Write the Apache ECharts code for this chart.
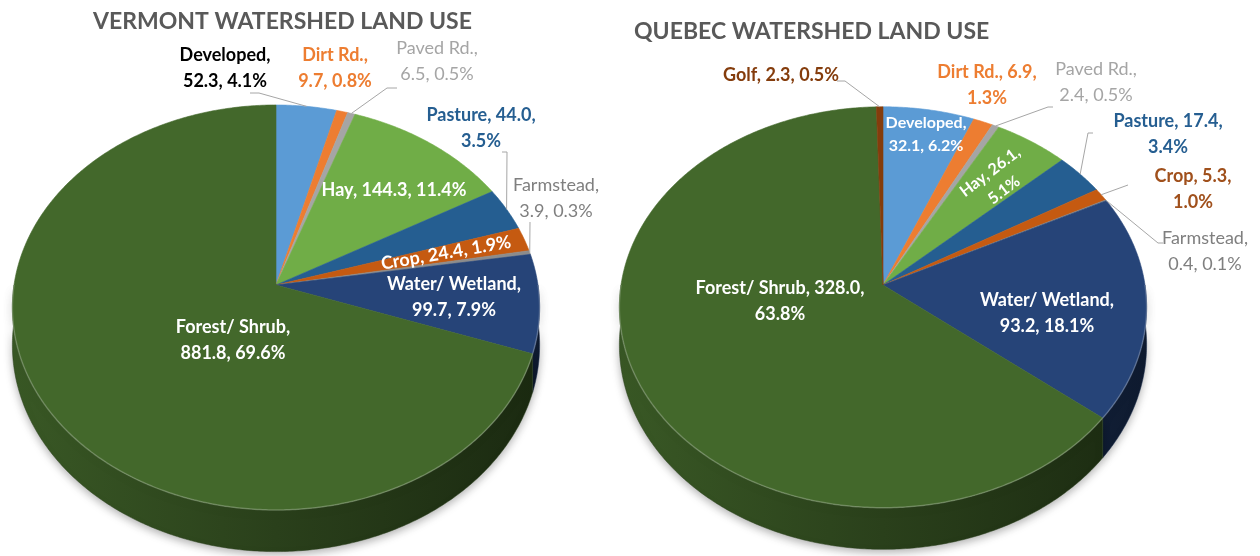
<!DOCTYPE html>
<html>
<head>
	<meta charset="UTF-8">
	<script src="https://cdn.jsdelivr.net/npm/echarts@6/dist/echarts.min.js"></script>
	<title>Watershed land use</title>
	<style>
		body { margin: 0; background: #fff; }
	</style>
</head>
<body>
	<div id="main" style="height:556px;width:1260px;"></div>
	<script type="text/javascript">
        // data (clockwise from 12 o'clock)
        var vtNames = ['Developed', 'Dirt Rd.', 'Paved Rd.', 'Hay', 'Pasture', 'Crop', 'Farmstead', 'Water/ Wetland', 'Forest/ Shrub'];
        var vtValues = [52.3, 9.7, 6.5, 144.3, 44.0, 24.4, 3.9, 99.7, 881.8];
        var vtPct = [4.1, 0.8, 0.5, 11.4, 3.5, 1.9, 0.3, 7.9, 69.6];

        var qcNames = ['Developed', 'Dirt Rd.', 'Paved Rd.', 'Hay', 'Pasture', 'Crop', 'Farmstead', 'Water/ Wetland', 'Forest/ Shrub', 'Golf'];
        var qcValues = [32.1, 6.9, 2.4, 26.1, 17.4, 5.3, 0.4, 93.2, 328.0, 2.3];
        var qcPct = [6.2, 1.3, 0.5, 5.1, 3.4, 1.0, 0.1, 18.1, 63.8, 0.5];

        var colors = {
            'Developed': '#5B9BD5', 'Dirt Rd.': '#ED7D31', 'Paved Rd.': '#A5A5A5', 'Hay': '#70AD47',
            'Pasture': '#255E91', 'Crop': '#C55A11', 'Farmstead': '#8C8C8C', 'Water/ Wetland': '#264478',
            'Forest/ Shrub': '#43682B', 'Golf': '#843C0C'
        };

        // projection of each pie (tilted disk with a little perspective)
        var vtGeo = { cx: 276, cy: 285, R: 262, Ry: 200, k: 0.111, h: 37 };
        var qcGeo = { cx: 883, cy: 285, R: 262, Ry: 198, k: 0.111, h: 37 };

        // label placement, same order as the names
        var vtLabels = [
            { x: 225, y: 68, brk: 1, color: '#000000', leader: [[250, 93], [259, 93]] },
            { x: 335, y: 68, brk: 1, color: '#ED7D31' },
            { x: 437, y: 61, brk: 1, color: '#A5A5A5', weight: 'normal', leader: [[397, 88], [387, 88]] },
            { x: 394, y: 190, brk: 0, color: '#ffffff' },
            { x: 481, y: 128, brk: 2, color: '#255E91', leader: [[502, 152], [507, 152]] },
            { x: 446, y: 253, brk: 0, color: '#ffffff', rot: 0.17 },
            { x: 556, y: 198, brk: 1, color: '#7F7F7F', weight: 'normal', leader: [[530, 222]] },
            { x: 454, y: 297, brk: 1, color: '#ffffff' },
            { x: 233, y: 340, brk: 1, color: '#ffffff' }
        ];
        var qcLabels = [
            { x: 926, y: 134, brk: 1, color: '#ffffff', size: 16 },
            { x: 987, y: 85, brk: 2, color: '#ED7D31' },
            { x: 1096, y: 82, brk: 1, color: '#A5A5A5', weight: 'normal', leader: [[1053, 107], [1048, 107]] },
            { x: 997, y: 181, brk: 2, color: '#ffffff', size: 16, rot: 0.65 },
            { x: 1168, y: 134, brk: 2, color: '#255E91', leader: [[1093, 133], [1088, 133]] },
            { x: 1193, y: 189, brk: 2, color: '#A0501C', leader: [[1128, 185]] },
            { x: 1205, y: 251, brk: 1, color: '#7F7F7F', weight: 'normal', leader: [[1163, 243], [1158, 243]] },
            { x: 1047, y: 313, brk: 1, color: '#ffffff' },
            { x: 780, y: 301, brk: 2, color: '#ffffff' },
            { x: 781, y: 75, brk: 0, color: '#843C0C', leader: [[837, 81], [845, 81]] }
        ];

        function shade(hex, f) {
            var n = parseInt(hex.slice(1), 16);
            var r = Math.round(((n >> 16) & 255) * f);
            var g = Math.round(((n >> 8) & 255) * f);
            var b = Math.round((n & 255) * f);
            return 'rgb(' + r + ',' + g + ',' + b + ')';
        }

        function proj(geo, a, r) {
            var u = r * Math.cos(a), v = r * Math.sin(a);
            var w = 1 + geo.k * u;
            return [geo.cx + geo.R * v / w, geo.cy - geo.Ry * u / w, w];
        }

        function labelText(name, value, pct, brk) {
            var parts = [name, value.toFixed(1), pct.toFixed(1) + '%'];
            var s = '';
            for (var i = 0; i < parts.length; i++) {
                s += parts[i];
                if (i < parts.length - 1) s += (i + 1 === brk) ? ',\n' : ', ';
            }
            return s;
        }

        function makeRender(names, values, pcts, geo, labels) {
            var total = 0, cum = [0];
            for (var i = 0; i < values.length; i++) {
                total += values[i];
                cum.push(total);
            }
            return function (params, api) {
                var i = params.dataIndex;
                var a0 = cum[i] / total * Math.PI * 2;
                var a1 = cum[i + 1] / total * Math.PI * 2;
                var col = colors[names[i]];
                var children = [];

                // top face
                var pts = [[geo.cx, geo.cy]];
                var n = Math.max(2, Math.ceil((a1 - a0) / 0.01));
                for (var j = 0; j <= n; j++) {
                    var p = proj(geo, a0 + (a1 - a0) * j / n, 1);
                    pts.push([p[0], p[1]]);
                }
                children.push({
                    type: 'polygon', z2: 10,
                    shape: { points: pts },
                    style: { fill: col, stroke: col, lineWidth: 0.6 }
                });

                // front wall
                var s0 = Math.max(a0, Math.PI / 2), s1 = Math.min(a1, Math.PI * 1.5);
                if (s1 > s0) {
                    var top = [], bot = [];
                    var m = Math.max(2, Math.ceil((s1 - s0) / 0.01));
                    for (var j = 0; j <= m; j++) {
                        var q = proj(geo, s0 + (s1 - s0) * j / m, 1);
                        top.push([q[0], q[1]]);
                        bot.unshift([q[0], q[1] + geo.h / q[2]]);
                    }
                    children.push({
                        type: 'polygon', z2: 2,
                        shape: { points: top.concat(bot) },
                        style: {
                            fill: {
                                type: 'linear', global: true,
                                x: geo.cx - geo.R, y: 0, x2: geo.cx + geo.R, y2: 0,
                                colorStops: [
                                    { offset: 0, color: shade(col, 0.85) },
                                    { offset: 0.5, color: shade(col, 0.62) },
                                    { offset: 1, color: shade(col, 0.4) }
                                ]
                            },
                            stroke: shade(col, 0.6), lineWidth: 0.5,
                            shadowBlur: 8, shadowColor: 'rgba(0,0,0,0.3)', shadowOffsetY: 3
                        }
                    });
                    children.push({
                        type: 'polyline', z2: 12,
                        shape: { points: top },
                        style: { stroke: 'rgba(255,255,255,0.22)', lineWidth: 1.5, fill: null }
                    });
                }

                // label
                var lb = labels[i];
                var fs = lb.size || 18;
                children.push({
                    type: 'text', z2: 30,
                    x: lb.x, y: lb.y, rotation: lb.rot || 0,
                    style: {
                        text: labelText(names[i], values[i], pcts[i], lb.brk),
                        fill: lb.color,
                        fontFamily: 'Lato', fontSize: fs, fontWeight: lb.weight || 'bold',
                        lineHeight: Math.round(fs * 1.45),
                        align: 'center', verticalAlign: 'middle',
                        textAlign: 'center', textVerticalAlign: 'middle'
                    }
                });

                // leader line to the middle of the slice rim
                if (lb.leader) {
                    var mid = proj(geo, (a0 + a1) / 2, 1);
                    children.push({
                        type: 'polyline', z2: 25,
                        shape: { points: lb.leader.concat([[mid[0], mid[1]]]) },
                        style: { stroke: '#A6A6A6', lineWidth: 1, fill: null }
                    });
                }
                return { type: 'group', children: children };
            };
        }

        var myChart = echarts.init(document.getElementById('main'));
        var option = {
            backgroundColor: '#ffffff',
            animation: false,
            title: [
                {
                    text: 'VERMONT WATERSHED LAND USE', left: 93, top: 10, padding: 0,
                    textStyle: { fontFamily: 'Lato', fontSize: 23, fontWeight: 'bold', color: '#595959' }
                },
                {
                    text: 'QUEBEC WATERSHED LAND USE', left: 634, top: 20, padding: 0,
                    textStyle: { fontFamily: 'Lato', fontSize: 23, fontWeight: 'bold', color: '#595959' }
                }
            ],
            series: [
                {
                    type: 'custom', coordinateSystem: 'none',
                    renderItem: makeRender(vtNames, vtValues, vtPct, vtGeo, vtLabels),
                    data: vtValues
                },
                {
                    type: 'custom', coordinateSystem: 'none',
                    renderItem: makeRender(qcNames, qcValues, qcPct, qcGeo, qcLabels),
                    data: qcValues
                }
            ]
        };
        myChart.setOption(option);
	</script>
</body>
</html>
